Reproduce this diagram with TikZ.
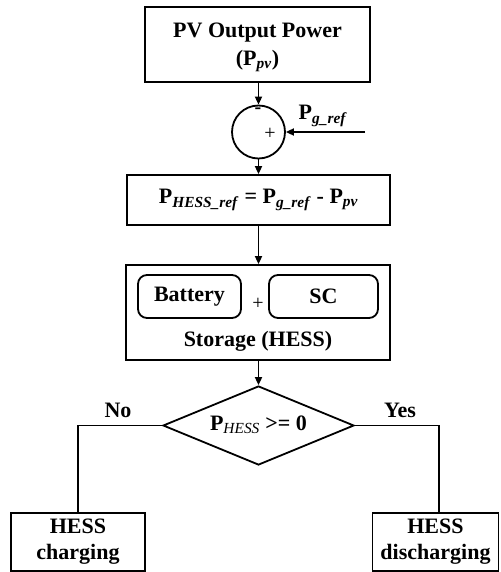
\documentclass[tikz,border=0pt]{standalone}
\usepackage{fontspec}
\setmainfont{Liberation Serif}
\usetikzlibrary{arrows.meta,shapes.geometric}
\begin{document}
\begin{tikzpicture}[x=1pt,y=-1pt,
  every node/.style={font=\fontsize{22}{26}\selectfont\bfseries, inner sep=0pt, align=center},
  box/.style={draw, line width=1.8pt, rectangle},
  rbox/.style={draw, line width=1.8pt, rectangle, rounded corners=9pt},
  conn/.style={line width=1.8pt},
  arr/.style={line width=1.8pt, -{Triangle[length=8pt,width=7pt]}},
  sumc/.style={draw, line width=1.8pt, circle, minimum size=53pt},
  dec/.style={draw, line width=1.8pt, diamond, aspect=2.42, minimum width=191pt, minimum height=79pt}
]
\useasboundingbox (0,0) rectangle (500,572);

\node[box, minimum width=225pt, minimum height=75pt] (pv) at (257.5,44.5) {};
\node (pvt1) at (257.5,33) {PV Output Power};
\node (pvt2) at (257.5,61) {(P\textsubscript{\textit{pv}})};

\node[sumc] (sum) at (258.5,132) {};
\node[font=\fontsize{20}{22}\selectfont\bfseries] (minus) at (258,111) {-};
\node[font=\fontsize{20}{22}\selectfont\mdseries] (plus) at (270,134) {+};
\coordinate (gin) at (365,132);
\node (pglabel) at (323,116) {P\textsubscript{\textit{g\_ref}}};

\node[box, minimum width=263pt, minimum height=50pt] (eq) at (258.5,200)
  {P\textsubscript{\textit{HESS\_ref}} = P\textsubscript{\textit{g\_ref}} - P\textsubscript{\textit{pv}}};

\node[box, minimum width=264pt, minimum height=95pt] (st) at (258,312.5) {};
\node[rbox, minimum width=103pt, minimum height=43pt] (bat) at (189.5,296.5) {Battery};
\node[rbox, minimum width=109pt, minimum height=43pt] (sc) at (323.5,296.5) {SC};
\node[font=\fontsize{20}{22}\selectfont\mdseries] (splus) at (258,304) {+};
\node (stt) at (258,341) {Storage (HESS)};

\node[dec] (dia) at (258.5,425.5) {};
\node (diat) at (258.5,425) {P\textsubscript{\normalfont\itshape HESS} >= 0};

\node (no) at (118,410) {No};
\node (yes) at (400,410) {Yes};

\node[box, minimum width=134pt, minimum height=58pt] (ch) at (78,542) {HESS\\charging};
\node[box, minimum width=126pt, minimum height=58pt] (dis) at (435.5,542) {HESS\\discharging};

\draw[arr] (pv.south -| sum.north) -- (sum.north);
\draw[arr] (gin) -- (sum.east);
\draw[arr] (sum.south) -- (eq.north -| sum.south);
\draw[arr] (eq.south -| sum.south) -- (st.north -| sum.south);
\draw[arr] (st.south -| dia.north) -- (dia.north);
\draw[conn] (dia.west) -| (ch.north);
\draw[conn] (dia.east) -| ([xshift=3.5pt]dis.north);
\end{tikzpicture}
\end{document}
